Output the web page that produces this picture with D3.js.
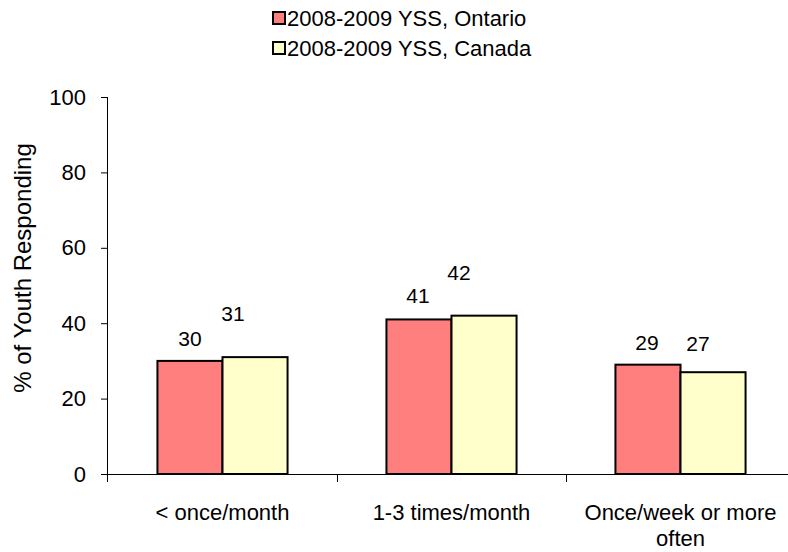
<!DOCTYPE html>
<html>
<head>
<meta charset="utf-8">
<script src="https://cdn.jsdelivr.net/npm/d3@7"></script>
<style>
  html, body { margin: 0; padding: 0; background: #fff; }
  svg { display: block; font-family: "Liberation Sans", Arial, sans-serif; }
</style>
</head>
<body>
<svg id="chart" width="788" height="552"></svg>
<script>
// Frequency categories and survey values (% of youth responding)
const categories = ["< once/month", "1-3 times/month", "Once/week or more often"];
const seriesNames = ["2008-2009 YSS, Ontario", "2008-2009 YSS, Canada"];
const ontario = [30, 41, 29];
const canada = [31, 42, 27];
const yTicks = [0, 20, 40, 60, 80, 100];

// Display settings
const colors = ["#FF7F7F", "#FFFFCC"];
// hand-placed value label nudges [dx, dy] from each bar's top centre
const labelNudge = [
  [[0, -15], [-1, -16], [-1, -15]],
  [[-22, -36], [-25, -36], [-15, -21]]
];

const svg = d3.select("#chart");
const margin = { left: 108, top: 97, right: -7, bottom: 78 };
const W = 788, H = 552;

const x = d3.scaleBand().domain(categories).range([margin.left, W - margin.right]);
const xSeries = d3.scaleBand().domain(seriesNames)
  .range([0, x.bandwidth()]).paddingInner(0).paddingOuter(0.76);
const y = d3.scaleLinear().domain([0, 100]).range([H - margin.bottom, margin.top]);

const values = [ontario, canada];

// Bars
seriesNames.forEach((s, si) => {
  svg.append("g").selectAll("rect")
    .data(categories.map((c, i) => ({ c, v: values[si][i], i })))
    .join("rect")
    .attr("x", d => x(d.c) + xSeries(s))
    .attr("y", d => y(d.v))
    .attr("width", xSeries.bandwidth())
    .attr("height", d => y(0) - y(d.v))
    .attr("fill", colors[si])
    .attr("stroke", "#000")
    .attr("stroke-width", 2);
});

// Value labels
seriesNames.forEach((s, si) => {
  svg.append("g").selectAll("text")
    .data(categories.map((c, i) => ({ c, v: values[si][i], i })))
    .join("text")
    .attr("x", d => x(d.c) + xSeries(s) + xSeries.bandwidth() / 2 + labelNudge[si][d.i][0])
    .attr("y", d => y(d.v) + labelNudge[si][d.i][1])
    .attr("text-anchor", "middle")
    .attr("font-size", 21)
    .attr("fill", "#000")
    .text(d => d.v);
});

// Y axis
const yAxis = svg.append("g")
  .attr("transform", `translate(${margin.left},0)`)
  .call(d3.axisLeft(y).tickValues(yTicks).tickSize(7).tickPadding(15));
yAxis.select(".domain").attr("stroke", "#000").attr("d", `M-0.5,${y(100)}V${y(0) + 8}`);
yAxis.selectAll(".tick line").attr("stroke", "#000");
yAxis.selectAll(".tick text").attr("font-size", 22).attr("fill", "#000")
  .attr("font-family", "Liberation Sans, Arial, sans-serif");

// X axis with ticks at category boundaries
const xAxisG = svg.append("g").attr("transform", `translate(0,${y(0)})`);
xAxisG.append("line")
  .attr("x1", margin.left).attr("x2", W)
  .attr("y1", 0.5).attr("y2", 0.5)
  .attr("stroke", "#000");
const boundaries = categories.map(c => x(c)).slice(1);
xAxisG.selectAll("line.tk").data(boundaries).join("line")
  .attr("class", "tk")
  .attr("x1", d => Math.round(d) + 0.5).attr("x2", d => Math.round(d) + 0.5)
  .attr("y1", 0).attr("y2", 8)
  .attr("stroke", "#000");

// Category labels (wrapped onto separate text lines)
const wrapWidth = 215;
categories.forEach(c => {
  const cx = x(c) + x.bandwidth() / 2;
  const g = svg.append("g");
  const addLine = (str, n) => g.append("text")
    .attr("x", cx)
    .attr("y", 520 + n * 26)
    .attr("text-anchor", "middle")
    .attr("font-size", 22)
    .attr("fill", "#000")
    .text(str);
  const words = c.split(" ");
  let line = [];
  let n = 0;
  let t = addLine("", n);
  words.forEach(w => {
    line.push(w);
    t.text(line.join(" "));
    if (t.node().getComputedTextLength() > wrapWidth && line.length > 1) {
      line.pop();
      t.text(line.join(" "));
      line = [w];
      n++;
      t = addLine(w, n);
    }
  });
});

// Y axis title
svg.append("text")
  .attr("transform", "translate(31,268) rotate(-90)")
  .attr("text-anchor", "middle")
  .attr("font-size", 24)
  .attr("fill", "#000")
  .text("% of Youth Responding");

// Legend
const legend = svg.append("g");
seriesNames.forEach((s, si) => {
  const rowY = 18 + si * 30;
  legend.append("rect")
    .attr("x", 273).attr("y", rowY - 6)
    .attr("width", 12).attr("height", 12)
    .attr("fill", colors[si])
    .attr("stroke", "#000").attr("stroke-width", 2);
  legend.append("text")
    .attr("x", 287).attr("y", rowY + 8)
    .attr("font-size", 22)
    .attr("fill", "#000")
    .text(s);
});
</script>
</body>
</html>
